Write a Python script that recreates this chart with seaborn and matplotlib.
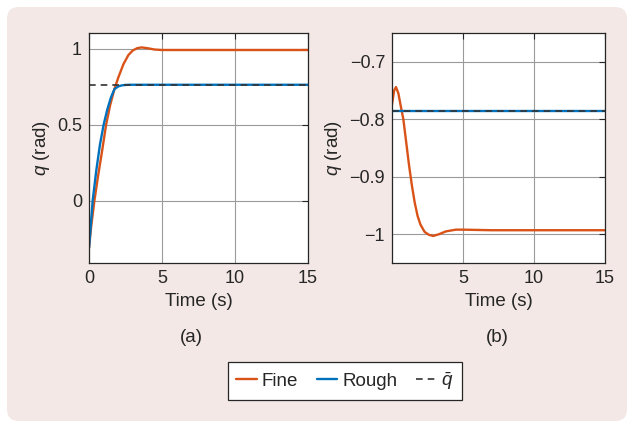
import numpy as np
import pandas as pd
import matplotlib
matplotlib.use("Agg")
import matplotlib.pyplot as plt
import matplotlib.transforms as mtransforms
from matplotlib.patches import FancyBboxPatch
import seaborn as sns

# ---------------- data ----------------
# panel (a)
t_fine_a = [0, 0.15, 0.37, 0.6, 0.9, 1.17, 1.45, 1.74, 2.0, 2.36, 2.7, 3.0, 3.3, 3.6, 4.0, 4.5, 5.0, 7.0, 10.0, 15.0]
q_fine_a = [-0.31, -0.17, 0.0, 0.15, 0.33, 0.50, 0.63, 0.735, 0.81, 0.90, 0.96, 0.99, 1.005, 1.01, 1.005, 0.996, 0.993, 0.993, 0.993, 0.993]
t_rough_a = [0, 0.1, 0.25, 0.5, 0.75, 1.0, 1.25, 1.5, 1.74, 2.0, 2.25, 2.5, 2.8, 5.0, 10.0, 15.0]
q_rough_a = [-0.31, -0.19, 0.0, 0.20, 0.37, 0.50, 0.60, 0.68, 0.735, 0.753, 0.760, 0.763, 0.764, 0.764, 0.764, 0.764]
qbar_a = 0.764

# panel (b)
t_fine_b = [0, 0.15, 0.28, 0.45, 0.6, 0.8, 1.0, 1.2, 1.4, 1.6, 1.8, 2.0, 2.3, 2.6, 2.9, 3.3, 3.8, 4.5, 5.0, 7.0, 10.0, 15.0]
q_fine_b = [-0.774, -0.750, -0.744, -0.755, -0.775, -0.80, -0.84, -0.88, -0.915, -0.945, -0.968, -0.983, -0.996, -1.001, -1.003, -1.0, -0.995, -0.992, -0.992, -0.993, -0.993, -0.993]
t_rough_b = [0, 15.0]
q_rough_b = [-0.786, -0.786]
qbar_b = -0.786

x_ticks_a = [0, 5, 10, 15]
x_ticks_b = [5, 10, 15]
y_ticks_a = [0, 0.5, 1]
y_tick_labels_a = ["0", "0.5", "1"]
y_ticks_b = [-1.0, -0.9, -0.8, -0.7]
y_tick_labels_b = ["\u22121", "\u22120.9", "\u22120.8", "\u22120.7"]

# ---------------- style ----------------
sns.set_style("white")
plt.rcParams['font.family'] = ['Liberation Sans', 'DejaVu Sans']
plt.rcParams['mathtext.fontset'] = 'custom'
plt.rcParams['mathtext.it'] = 'Liberation Sans:italic'
plt.rcParams['mathtext.rm'] = 'Liberation Sans'
plt.rcParams['axes.unicode_minus'] = True

FINE = '#D95319'
ROUGH = '#0072BD'
DASH = '#333333'
TXT = '#262626'
FS = 13

W, H = 629, 426
fig = plt.figure(figsize=(W / 100, H / 100), dpi=100)
fig.patch.set_facecolor('white')

bg = FancyBboxPatch((7, 5), 620, 414, boxstyle="round,pad=0,rounding_size=12",
                    transform=mtransforms.IdentityTransform(),
                    facecolor='#f3e8e6', edgecolor='none', zorder=-10)
fig.add_artist(bg)

ax1 = fig.add_axes([89 / W, 1 - 263 / H, 219 / W, 230 / H])
ax2 = fig.add_axes([392 / W, 1 - 263 / H, 213 / W, 230 / H])


def draw(ax, tf, qf, tr, qr, qbar):
    sns.lineplot(x=tf, y=qf, ax=ax, color=FINE, lw=1.7, label='Fine', estimator=None, sort=False)
    sns.lineplot(x=tr, y=qr, ax=ax, color=ROUGH, lw=1.7, label='Rough', estimator=None, sort=False)
    sns.lineplot(x=[0, 15], y=[qbar, qbar], ax=ax, color=DASH, lw=1.2,
                 linestyle=(0, (4, 3)), label=r'$\bar{q}$', estimator=None, sort=False)
    ax.set_xlim(0, 15)
    ax.grid(True, color='#9a9a9a', lw=0.8)
    ax.set_axisbelow(True)
    for s in ax.spines.values():
        s.set_color(TXT)
        s.set_linewidth(0.9)
    ax.tick_params(direction='in', length=4, width=0.8, top=True, right=True,
                   labelsize=FS, colors=TXT, pad=5)
    ax.set_xlabel('Time (s)', fontsize=13.5, color=TXT, labelpad=4)
    ax.set_ylabel(r'$q$ (rad)', fontsize=13.5, color=TXT, labelpad=4)
    ax.set_facecolor('white')


draw(ax1, t_fine_a, q_fine_a, t_rough_a, q_rough_a, qbar_a)
ax1.set_ylim(-0.41, 1.105)
ax1.set_xticks(x_ticks_a)
ax1.set_yticks(y_ticks_a)
ax1.set_yticklabels(y_tick_labels_a)

draw(ax2, t_fine_b, q_fine_b, t_rough_b, q_rough_b, qbar_b)
ax2.set_ylim(-1.05, -0.65)
ax2.set_xticks(x_ticks_b)
ax2.set_yticks(y_ticks_b)
ax2.set_yticklabels(y_tick_labels_b)

handles, labels = ax1.get_legend_handles_labels()
for ax in (ax1, ax2):
    if ax.get_legend() is not None:
        ax.get_legend().remove()

fig.text(191 / W, 1 - 337 / H, '(a)', ha='center', va='center', fontsize=13.5, color=TXT)
fig.text(497 / W, 1 - 337 / H, '(b)', ha='center', va='center', fontsize=13.5, color=TXT)

leg = fig.legend(handles, labels, loc='center', bbox_to_anchor=(345 / W, 1 - 381 / H),
                 ncol=3, frameon=True, fancybox=False, fontsize=13.5,
                 handlelength=1.1, handletextpad=0.25, columnspacing=1.0,
                 borderpad=0.45, borderaxespad=0, labelcolor=TXT)
leg.get_frame().set_edgecolor(TXT)
leg.get_frame().set_linewidth(0.9)
leg.get_frame().set_facecolor('white')
leg.get_frame().set_alpha(1)

fig.savefig('out.png', dpi=100)
